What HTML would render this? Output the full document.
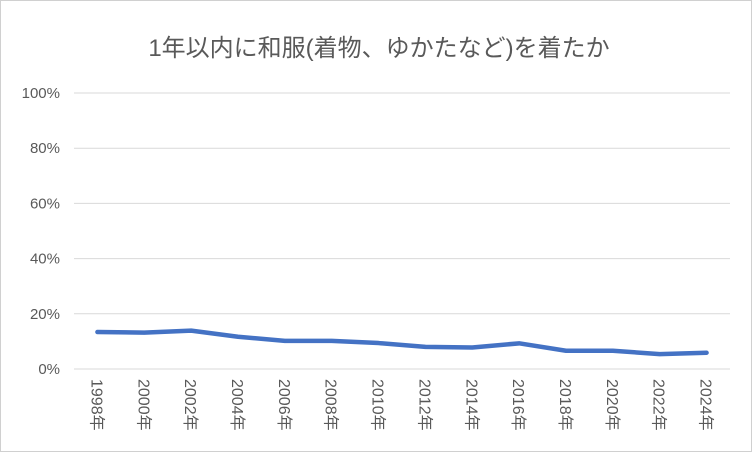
<!DOCTYPE html>
<html><head><meta charset="utf-8"><style>
body{margin:0;background:#fff}
#c{position:relative;width:752px;height:452px;box-sizing:border-box;border:1px solid #d0d0d0;background:#fff;overflow:hidden}
text{font-family:"Liberation Sans","Noto Sans CJK JP",sans-serif}
</style></head><body>
<div id="c">
<svg id="s" width="750" height="450">
<text x="378" y="55" text-anchor="middle" font-size="24" fill="#595959">1年以内に和服(着物、ゆかたなど)を着たか</text>
</svg>
</div>
<script>
const categories=["1998年","2000年","2002年","2004年","2006年","2008年","2010年","2012年","2014年","2016年","2018年","2020年","2022年","2024年"];
const values=[13.4,13.2,13.9,11.7,10.2,10.2,9.4,8.0,7.8,9.3,6.6,6.6,5.4,5.9];
const yTicks=[0,20,40,60,80,100];
const ns="http://www.w3.org/2000/svg";
const s=document.getElementById('s');
const L=73,R=729,T=92,B=368;
const bw=(R-L)/categories.length;
const x=i=>L+bw*(i+0.5);
const y=v=>B-(v/100)*(B-T);
function mk(t,a){const e=document.createElementNS(ns,t);for(const k in a)e.setAttribute(k,a[k]);s.appendChild(e);return e;}
yTicks.forEach(v=>{
 const g=mk('line',{x1:L,x2:R,y1:y(v),y2:y(v),stroke:'#d9d9d9','stroke-width':1});
 
 
 const t=mk('text',{x:59,y:y(v)+5,'text-anchor':'end','font-size':15,fill:'#595959'});
 t.textContent=v+'%';
 
 
});
categories.forEach((c,i)=>{
 const t=mk('text',{x:0,y:0,'font-size':16,fill:'#595959',transform:`translate(${x(i)-6},378) rotate(90)`});
 t.textContent=c;
 
 
});
const p=mk('polyline',{points:values.map((v,i)=>x(i)+','+y(v)).join(' '),fill:'none',stroke:'#4472c4','stroke-width':4.5,'stroke-linejoin':'round','stroke-linecap':'round'});


</script>
</body></html>
